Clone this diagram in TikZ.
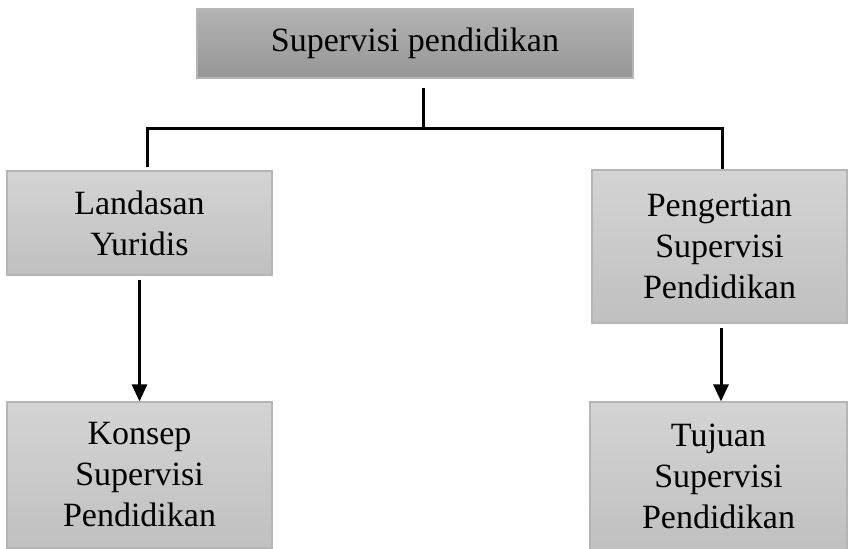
\documentclass[tikz,border=0pt]{standalone}
\usepackage{fontspec}
\setmainfont{Liberation Serif}
\usetikzlibrary{arrows.meta}
\definecolor{topT}{HTML}{B3B3B3}
\definecolor{topB}{HTML}{969696}
\definecolor{boxT}{HTML}{D4D4D4}
\definecolor{boxB}{HTML}{C0C0C0}
\definecolor{edge}{HTML}{B5B5B5}
\begin{document}
\begin{tikzpicture}[x=1pt,y=-1pt,
  box/.style={draw=edge, line width=1.2pt, rectangle, inner sep=0pt, align=center,
    top color=boxT, bottom color=boxB, font=\fontsize{34}{41}\selectfont},
  headbox/.style={box, top color=topT, bottom color=topB},
  conn/.style={line width=3pt, black},
  arr/.style={conn, -{Triangle[width=15pt,length=17pt]}}]
\useasboundingbox (0,0) rectangle (850,548);
\node[headbox, minimum width=436pt, minimum height=69pt] (top) at (415,43.5) {Supervisi pendidikan};
\node[box, minimum width=265pt, minimum height=104pt] (land) at (139.5,223) {Landasan\\Yuridis};
\node[box, minimum width=255pt, minimum height=153pt] (peng) at (719.5,246.5) {Pengertian\\Supervisi\\Pendidikan};
\node[box, minimum width=265pt, minimum height=146pt] (kons) at (139.5,475) {Konsep\\Supervisi\\Pendidikan};
\node[box, minimum width=257pt, minimum height=148pt] (tuj) at (718.5,476) {Tujuan\\Supervisi\\Pendidikan};
\coordinate (j) at (423,129);
\coordinate (jl) at (147,129);
\coordinate (jr) at (722,129);
\coordinate (ar) at (721,0);
\draw[conn] (top.south -| j) ++(0,9) -- (j);
\draw[conn, line join=miter] ([yshift=3pt]land.north -| jl) -- (jl) -- (jr) -- (peng.north -| jr);
\draw[arr] ([yshift=-4pt]land.south) -- (kons.north);
\draw[arr] ([yshift=-4pt]peng.south -| ar) -- (tuj.north -| ar);
\end{tikzpicture}
\end{document}
